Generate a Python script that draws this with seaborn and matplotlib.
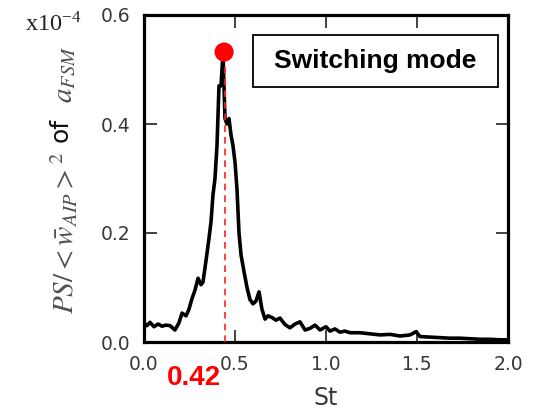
import matplotlib
matplotlib.use("Agg")
import matplotlib.pyplot as plt
import seaborn as sns
import pandas as pd
from matplotlib.patches import Rectangle

# ---- data ----
st = [0.000, 0.016, 0.033, 0.055, 0.077, 0.099, 0.121, 0.143, 0.170, 0.192,
      0.209, 0.231, 0.247, 0.264, 0.280, 0.297, 0.313, 0.324, 0.341, 0.357,
      0.368, 0.379, 0.390, 0.401, 0.412, 0.423, 0.434, 0.445, 0.456, 0.467,
      0.478, 0.489, 0.500, 0.511, 0.522, 0.533, 0.549, 0.566, 0.582, 0.599,
      0.615, 0.632, 0.648, 0.665, 0.681, 0.703, 0.725, 0.747, 0.775, 0.802,
      0.830, 0.857, 0.885, 0.912, 0.940, 0.967, 1.000, 1.022, 1.049, 1.077,
      1.104, 1.132, 1.187, 1.242, 1.297, 1.352, 1.407, 1.462, 1.495, 1.516,
      1.571, 1.626, 1.681, 1.736, 1.791, 1.846, 1.901, 1.956, 2.000]
ps = [0.035, 0.030, 0.036, 0.028, 0.033, 0.029, 0.031, 0.030, 0.022, 0.035,
      0.053, 0.048, 0.060, 0.080, 0.095, 0.117, 0.105, 0.110, 0.150, 0.190,
      0.220, 0.270, 0.300, 0.360, 0.470, 0.470, 0.530, 0.410, 0.400, 0.410,
      0.380, 0.360, 0.330, 0.280, 0.200, 0.160, 0.130, 0.100, 0.078, 0.070,
      0.075, 0.092, 0.060, 0.042, 0.048, 0.045, 0.040, 0.044, 0.032, 0.026,
      0.033, 0.037, 0.022, 0.025, 0.031, 0.022, 0.028, 0.020, 0.024, 0.018,
      0.020, 0.017, 0.017, 0.015, 0.013, 0.014, 0.011, 0.013, 0.019, 0.010,
      0.009, 0.008, 0.007, 0.007, 0.006, 0.005, 0.005, 0.004, 0.004]
peak_st = [0.44]
peak_ps = [0.532]
dash_x = 0.447
xticks = [0.0, 0.5, 1.0, 1.5, 2.0]
yticks = [0.0, 0.2, 0.4, 0.6]
peak_label = "0.42"
box_label = "Switching mode"

df = pd.DataFrame({"St": st, "PS": ps})
dfp = pd.DataFrame({"St": peak_st, "PS": peak_ps})

sns.set_theme(style="ticks")
plt.rcParams["mathtext.fontset"] = "stix"
plt.rcParams["font.family"] = ["DejaVu Sans"]

W, H = 535, 412
fig = plt.figure(figsize=(W / 100, H / 100), dpi=100)
ax = fig.add_axes([144 / W, 1 - 342 / H, (508 - 144) / W, (342 - 15) / H])

sns.lineplot(data=df, x="St", y="PS", ax=ax, color="black", linewidth=2.6)
ax.plot([dash_x, dash_x], [0, peak_ps[0]], color="#ff2020", lw=1.2,
        ls=(0, (4, 3)), zorder=3)
sns.scatterplot(data=dfp, x="St", y="PS", ax=ax, color="#ff0000", s=190,
                edgecolor="none", zorder=5, clip_on=False)

ax.set_xlim(0, 2.0)
ax.set_ylim(0, 0.6)
ax.set_xticks(xticks)
ax.set_yticks(yticks)
ax.set_xticklabels([f"{v:.1f}" for v in xticks])
ax.set_yticklabels([f"{v:.1f}" for v in yticks])
ax.tick_params(direction="in", length=9, width=1.3, color="#333333",
               top=True, right=True, labelsize=13.5, labelcolor="#383838")
ax.tick_params(axis="x", pad=9)
ax.tick_params(axis="y", pad=10)
for sp in ax.spines.values():
    sp.set_linewidth(2.3)
    sp.set_color("black")
ax.set_xlabel("St", fontsize=17, color="#3a3a3a", labelpad=9)
ax.set_ylabel("")

# y label built from parts
fig.text(64 / W, 1 - 314 / H, r"$PS/<\bar{w}_{AIP}>^2$", rotation=90,
         ha="center", va="bottom", fontsize=21, color="#505050")
fig.text(61 / W, 1 - 130 / H, "of", rotation=90, ha="center", va="center",
         fontsize=18, color="#111111")
fig.text(64 / W, 1 - 46 / H, r"$a_{FSM}$", rotation=90, ha="center",
         va="top", fontsize=21, color="#505050")

# x10^-4 multiplier
fig.text(25 / W, 1 - 32 / H, r"x10$^{\mathregular{-4}}$", ha="left",
         va="baseline", fontsize=17.5, color="#222222",
         family=["Liberation Serif"])

# red peak label
fig.text(194 / W, 1 - 378 / H, peak_label, ha="center", va="center",
         fontsize=20, color="#ff0000", fontweight="bold",
         family=["Liberation Sans"])

# boxed annotation
fig.patches.append(Rectangle((253 / W, 1 - 87 / H), (498 - 253) / W,
                             (87 - 35) / H, transform=fig.transFigure,
                             facecolor="white", edgecolor="black", lw=1.3))
fig.text(375 / W, 1 - 61 / H, box_label, ha="center", va="center",
         fontsize=19, color="black", fontweight="bold",
         family=["Liberation Sans"])

fig.savefig("out.png", dpi=100)
